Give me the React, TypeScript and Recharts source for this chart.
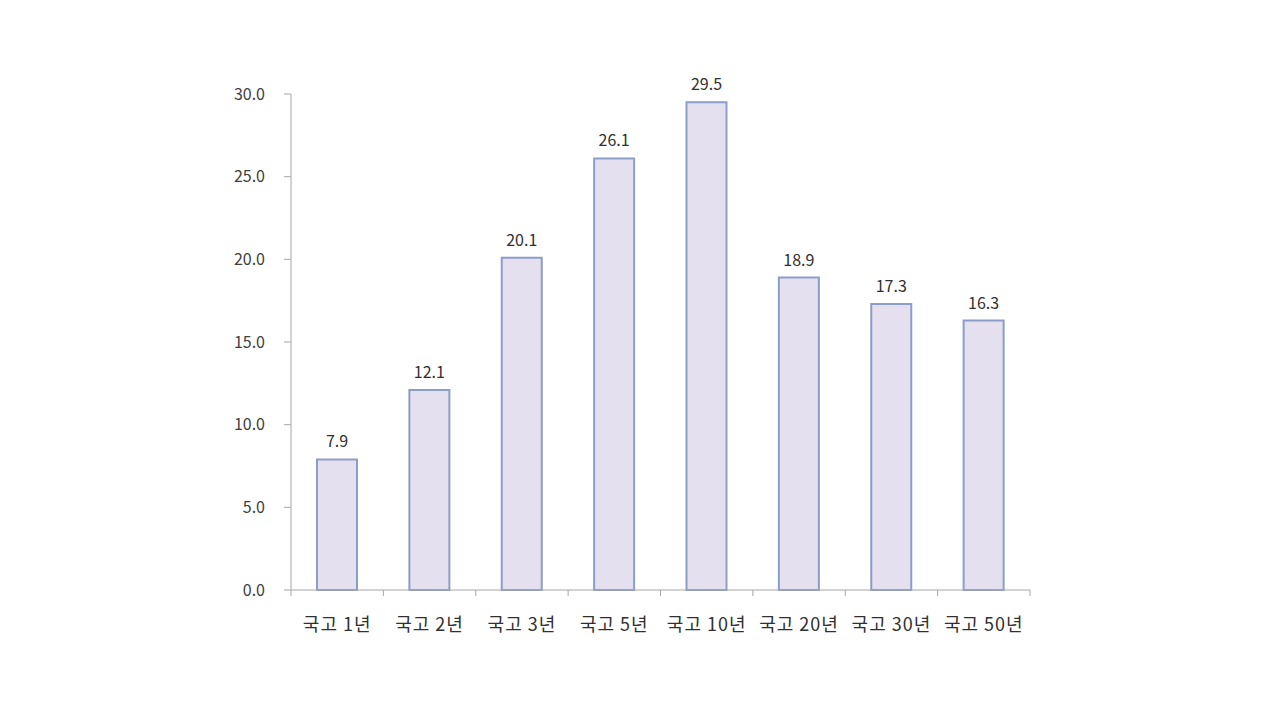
import React from 'react';
import { BarChart, Bar, XAxis, YAxis, LabelList } from 'recharts';

const categories = ['국고 1년', '국고 2년', '국고 3년', '국고 5년', '국고 10년', '국고 20년', '국고 30년', '국고 50년'];
const values = [7.9, 12.1, 20.1, 26.1, 29.5, 18.9, 17.3, 16.3];
const yTicks = [0, 5, 10, 15, 20, 25, 30];

const data = categories.map((name, i) => ({ name, value: values[i] }));

const FONT = '"Noto Sans CJK KR", "Noto Sans", sans-serif';
const AXIS = '#a6a6a6';
const TICK_SIZE = 6;
const TICK_MARGIN = 22;

// category label plus tick marks on the band edges (Excel style)
function CategoryTick(props: any) {
  const { x, y, payload, index } = props;
  const half = payload?.offset ?? 0;
  const axisY = y - TICK_SIZE - TICK_MARGIN;
  return (
    <g>
      {index === 0 && (
        <line x1={x - half} x2={x - half} y1={axisY} y2={axisY + TICK_SIZE} stroke={AXIS} />
      )}
      <line x1={x + half} x2={x + half} y1={axisY} y2={axisY + TICK_SIZE} stroke={AXIS} />
      <text
        x={x}
        y={y}
        dy="0.71em"
        textAnchor="middle"
        fill="#303030"
        fontSize={18}
        fontFamily={FONT}
        letterSpacing={1}
      >
        {payload.value}
      </text>
    </g>
  );
}

export default function App() {
  return (
    <div style={{ position: 'absolute', left: 0, top: 0, width: 1280, height: 720, background: '#fff', fontFamily: FONT }}>
      <BarChart
        width={1280}
        height={720}
        data={data}
        margin={{ top: 94, right: 250, bottom: 80, left: 231 }}
        barSize={40}
      >
        <YAxis
          type="number"
          domain={[0, 30]}
          ticks={yTicks}
          width={60}
          tickFormatter={(v) => v.toFixed(1)}
          tick={{ fill: '#404040', fontSize: 16, fontFamily: FONT }}
          tickSize={7}
          tickMargin={19}
          axisLine={{ stroke: AXIS }}
          tickLine={{ stroke: AXIS }}
        />
        <XAxis
          dataKey="name"
          height={50}
          interval={0}
          tick={<CategoryTick />}
          tickLine={false}
          tickSize={TICK_SIZE}
          tickMargin={TICK_MARGIN}
          axisLine={{ stroke: AXIS }}
        />
        <Bar dataKey="value" fill="#e4e0ef" stroke="#8d9dc9" strokeWidth={2} isAnimationActive={false}>
          <LabelList
            dataKey="value"
            position="top"
            offset={12}
            formatter={(v: any) => Number(v).toFixed(1)}
            style={{ fill: '#303030', fontSize: 16, fontFamily: FONT }}
          />
        </Bar>
      </BarChart>
    </div>
  );
}
